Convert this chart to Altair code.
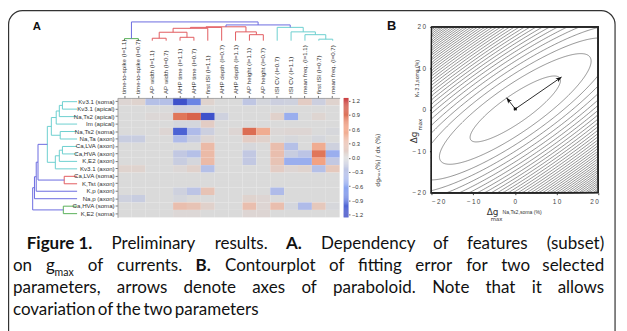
import math
import altair as alt
import numpy as np
import pandas as pd

# ---------------------------------------------------------------- data
ROWS = ["Kv3.1 (soma)", "Kv3.1 (apical)", "Na,Ts2 (apical)", "Im (apical)",
        "Na,Ts2 (soma)", "Na,Ta (axon)", "Ca,LVA (axon)", "Ca,HVA (axon)",
        "K,E2 (axon)", "Kv3.1 (axon)", "Ca,LVA (soma)", "K,Tst (axon)",
        "K,p (axon)", "Na,p (axon)", "Ca,HVA (soma)", "K,E2 (soma)"]

COLS = ["time-to-spike (I=1.1)", "time-to-spike (I=0.7)", "AP width (I=1.1)",
        "AP width (I=0.7)", "AHP time (I=1.1)", "AHP time (I=0.7)",
        "first ISI (I=1.1)", "AHP depth (I=0.7)", "AHP depth (I=1.1)",
        "AP height (I=1.1)", "AP height (I=0.7)", "ISI CV (I=0.7)",
        "ISI CV (I=1.1)", "mean freq. (I=1.1)", "first ISI (I=0.7)",
        "mean freq. (I=0.7)"]

VALUES = [
    [0.05, 0.08, -0.30, -0.30, -1.10, -0.80, 0.08, 0.00, 0.00, -0.22, -0.05, -0.12, -0.10, 0.15, -0.12, 0.08],
    [0.00, 0.00, 0.00, 0.00, -0.10, -0.08, 0.00, 0.00, 0.00, 0.00, 0.00, 0.00, 0.00, 0.00, 0.00, 0.00],
    [0.00, 0.00, 0.03, 0.03, 0.85, 0.95, -1.10, -0.10, 0.00, 0.00, 0.00, 0.10, -0.50, 0.00, 0.06, 0.00],
    [0.00, 0.00, 0.00, 0.00, -0.05, -0.05, 0.15, 0.00, 0.00, 0.00, 0.00, 0.00, 0.00, 0.00, 0.00, 0.00],
    [0.00, 0.00, 0.00, 0.05, -1.00, -0.35, -0.12, 0.00, 0.05, 0.90, 0.50, 0.03, 0.05, 0.05, 0.00, -0.03],
    [-0.15, -0.15, 0.00, 0.00, -0.35, -0.15, 0.05, 0.00, 0.00, 0.15, 0.10, 0.00, -0.03, 0.00, -0.05, 0.00],
    [0.00, 0.00, 0.00, 0.00, 0.00, 0.00, 0.35, 0.00, 0.00, -0.03, 0.00, 0.30, -0.30, 0.00, 0.50, -0.10],
    [0.00, 0.00, 0.00, 0.00, -0.20, -0.30, 0.35, 0.00, 0.00, -0.20, 0.00, 0.30, -0.15, -0.25, 0.85, -0.50],
    [0.00, 0.00, 0.00, 0.00, -0.15, -0.05, 0.35, 0.00, 0.00, -0.20, 0.00, 0.25, -0.50, -0.50, 0.60, -0.20],
    [0.08, 0.08, 0.00, 0.00, 0.03, 0.10, -0.30, 0.00, 0.00, 0.00, 0.00, 0.15, 0.05, 0.08, -0.30, 0.20],
    [0.00, 0.00, 0.00, 0.00, 0.00, 0.00, 0.00, 0.00, 0.00, 0.00, 0.00, 0.00, 0.00, 0.00, 0.00, 0.00],
    [0.00, 0.00, 0.00, 0.00, 0.00, 0.00, 0.00, 0.00, 0.00, 0.00, 0.00, 0.00, 0.00, 0.00, 0.00, 0.00],
    [0.00, 0.00, 0.00, 0.00, -0.10, -0.25, 0.25, 0.00, 0.00, 0.00, 0.00, -0.35, 0.00, 0.00, 0.00, 0.00],
    [-0.10, -0.15, 0.00, 0.00, -0.05, 0.00, 0.00, 0.00, 0.00, 0.08, 0.05, 0.00, 0.00, 0.00, 0.00, 0.00],
    [0.00, 0.00, 0.00, 0.00, 0.30, 0.25, 0.10, 0.00, 0.00, 0.30, 0.05, 0.30, -0.05, -0.35, 0.20, -0.03],
    [0.00, 0.00, 0.00, 0.00, 0.03, 0.03, 0.00, 0.00, 0.00, 0.05, 0.05, 0.00, 0.00, 0.00, 0.00, 0.00],
]

# dendrogram links: (left pos, right pos, left child height, merge height, right child height, cluster)
COL_LINKS = [
    (0.5, 1.5, 0.00, 0.11, 0.00, "green"),
    (2.5, 3.5, 0.00, 0.13, 0.00, "red"),
    (4.5, 5.5, 0.00, 0.18, 0.00, "red"),
    (3.0, 5.0, 0.13, 0.45, 0.18, "red"),
    (9.5, 10.5, 0.00, 0.32, 0.00, "red"),
    (8.5, 10.0, 0.00, 0.47, 0.32, "red"),
    (4.0, 6.5, 0.45, 0.66, 0.00, "red"),
    (5.25, 7.5, 0.66, 0.71, 0.00, "red"),
    (6.375, 9.25, 0.71, 0.74, 0.47, "red"),
    (14.5, 15.5, 0.00, 0.08, 0.00, "cyan"),
    (13.5, 15.0, 0.00, 0.32, 0.08, "cyan"),
    (12.5, 14.25, 0.00, 0.47, 0.32, "cyan"),
    (11.5, 13.375, 0.00, 0.71, 0.47, "cyan"),
    (7.8125, 12.4375, 0.74, 0.84, 0.71, "blue"),
    (1.0, 10.125, 0.11, 1.00, 0.84, "blue"),
]

ROW_LINKS = [
    (0.5, 1.5, 0.00, 0.33, 0.00, "cyan"),
    (1.0, 2.5, 0.33, 0.40, 0.00, "cyan"),
    (1.75, 3.5, 0.40, 0.47, 0.00, "cyan"),
    (4.5, 5.5, 0.00, 0.38, 0.00, "cyan"),
    (2.625, 5.0, 0.47, 0.58, 0.38, "cyan"),
    (6.5, 7.5, 0.00, 0.33, 0.00, "cyan"),
    (7.0, 8.5, 0.33, 0.40, 0.00, "cyan"),
    (7.75, 9.5, 0.40, 0.49, 0.00, "cyan"),
    (3.8125, 8.625, 0.58, 0.67, 0.49, "cyan"),
    (10.5, 11.5, 0.00, 0.29, 0.00, "red"),
    (6.21875, 11.0, 0.67, 0.88, 0.29, "blue"),
    (8.609, 12.5, 0.88, 0.92, 0.00, "blue"),
    (10.555, 13.5, 0.92, 0.96, 0.00, "blue"),
    (14.5, 15.5, 0.00, 0.31, 0.00, "green"),
    (12.027, 15.0, 0.96, 1.00, 0.31, "blue"),
]

CLUSTER_NAMES = ["blue", "cyan", "red", "green"]
CLUSTER_COLORS = ["#6b6be0", "#6ccfcf", "#e25a5e", "#58b058"]

# contour panel: paraboloid fitted to the error surface
CENTER = (0.1, 0.2)
ARROW_TIPS = [(11.2, 7.9), (-2.0, 2.9)]
SEMI_MINOR_UNIT = 4.5      # semi-minor axis of one error step
AXIS_RATIO = 3.9           # major / minor
TILT_DEG = 35.0
LEVEL_OFFSET = 0.55
N_LEVELS = 46
N_PTS = 500
CT_TICKS = [-20, -10, 0, 10, 20]

# caption: lines of words; each word is a list of (text, style) pieces
CAPTION_LINES = [
    [[("Figure 1.", "b")], [("Preliminary", "r")], [("results.", "r")], [("A.", "b")],
     [("Dependency", "r")], [("of", "r")], [("features", "r")], [("(subset)", "r")]],
    [[("on", "r")], [("g", "r"), ("max", "s")], [("of", "r")], [("currents.", "r")], [("B.", "b")],
     [("Contourplot", "r")], [("of", "r")], [("fitting", "r")], [("error", "r")], [("for", "r")],
     [("two", "r")], [("selected", "r")]],
    [[(w, "r")] for w in "parameters, arrows denote axes of paraboloid. Note that it allows".split()],
    [[(w, "r")] for w in "covariation of the two parameters".split()],
]

# ---------------------------------------------------------------- layout (view px = page px - 8)
W, H = 619, 323
HM_X = [111, 336]
HM_Y = [89, 210]
CD_Y = [31, 12]
RD_X = [70, 25]
CB_X0, CB_X1 = 340, 345
CT_X = [429, 598]
CT_Y = [185, 17]
CAP_LEFT = [27, 13, 13, 13]
CAP_RIGHT = 612
CAP_BASE = [250, 272.5, 295, 317]
CAP_JUSTIFY = [True, True, True, False]
CAP_FONT = "Lato"
CAP_SIZE = 17.2

heat_scale = alt.Scale(domain=[-1.2, -0.6, 0, 0.6, 1.2],
                       range=["#2f3fc2", "#8ba6f2", "#dadada", "#f2a283", "#c42a2c"],
                       clamp=True)
clu_scale = alt.Scale(domain=CLUSTER_NAMES, range=CLUSTER_COLORS)

# ---------------------------------------------------------------- heatmap
hm_df = pd.DataFrame([(r, c, VALUES[i][j]) for i, r in enumerate(ROWS) for j, c in enumerate(COLS)],
                     columns=["row", "col", "value"])
heat = alt.Chart(hm_df).mark_rect().encode(
    x=alt.X("col:N", sort=COLS, title=None,
            scale=alt.Scale(range=HM_X, paddingInner=0, paddingOuter=0),
            axis=alt.Axis(orient="top", offset=-HM_Y[0], labelAngle=270, labelFontSize=6.2,
                          labelFont="Liberation Sans", labelColor="#333", labelPadding=2,
                          tickSize=2.5, tickColor="#777", domainColor="#999", domainWidth=0.8)),
    y=alt.Y("row:N", sort=ROWS, title=None,
            scale=alt.Scale(range=HM_Y, paddingInner=0, paddingOuter=0),
            axis=alt.Axis(orient="left", offset=-HM_X[0], labelFontSize=6.2,
                          labelFont="Liberation Sans", labelColor="#333", labelPadding=1,
                          tickSize=2.5, tickColor="#777", domainColor="#999", domainWidth=0.8)),
    color=alt.Color("value:Q", scale=heat_scale, legend=None),
)

# ---------------------------------------------------------------- colorbar
steps = np.round(np.arange(-1.26, 1.26, 0.02), 3)
cb_df = pd.DataFrame({"lo": steps, "hi": steps + 0.02, "mid": steps + 0.01})
cbar = alt.Chart(cb_df).mark_rect().encode(
    x=alt.value(CB_X0), x2=alt.value(CB_X1),
    y=alt.Y("lo:Q", scale=alt.Scale(domain=[-1.26, 1.26], range=[HM_Y[1], HM_Y[0]]),
            axis=alt.Axis(orient="right", offset=CB_X1 - W, values=[-1.2, -0.9, -0.6, -0.3, 0, 0.3, 0.6, 0.9, 1.2],
                          format=".1f", labelFontSize=5.8, labelFont="Liberation Sans", labelColor="#333",
                          tickSize=1.5, tickColor="#666", labelPadding=1.5, domain=False, title=None,
                          grid=False)),
    y2="hi:Q",
    color=alt.Color("mid:Q", scale=heat_scale, legend=None),
)

# ---------------------------------------------------------------- dendrograms
def link_points(links):
    rows = []
    for k, (a, b, ha, h, hb, clu) in enumerate(links):
        for o, (p, hh) in enumerate([(a, ha), (a, h), (b, h), (b, hb)]):
            rows.append({"link": k, "o": o, "pos": p, "h": hh, "clu": clu})
    return pd.DataFrame(rows)

col_dend = alt.Chart(link_points(COL_LINKS)).mark_line(strokeWidth=1).encode(
    x=alt.X("pos:Q", scale=alt.Scale(domain=[0, 16], range=HM_X), axis=None),
    y=alt.Y("h:Q", scale=alt.Scale(domain=[0, 1], range=CD_Y), axis=None),
    detail="link:N", order="o:Q",
    color=alt.Color("clu:N", scale=clu_scale, legend=None),
)

row_dend = alt.Chart(link_points(ROW_LINKS)).mark_line(strokeWidth=1).encode(
    y=alt.Y("pos:Q", scale=alt.Scale(domain=[0, 16], range=HM_Y), axis=None),
    x=alt.X("h:Q", scale=alt.Scale(domain=[0, 1], range=RD_X), axis=None),
    detail="link:N", order="o:Q",
    color=alt.Color("clu:N", scale=clu_scale, legend=None),
)

# ---------------------------------------------------------------- contour panel
th = math.radians(TILT_DEG)
ct_xs = alt.Scale(domain=[-20, 20], range=CT_X, clamp=True)
ct_ys = alt.Scale(domain=[-20, 20], range=CT_Y, clamp=True)
spaced = "join(split(datum.label, ''), '\u2009')"

contours = alt.Chart(alt.sequence(0, N_LEVELS * N_PTS, as_="i")).transform_calculate(
    lev=f"floor(datum.i / {N_PTS})",
    t=f"(datum.i % {N_PTS}) / ({N_PTS} - 1) * 2 * PI",
).transform_calculate(
    r=f"sqrt(datum.lev + {LEVEL_OFFSET})",
).transform_calculate(
    u=f"{SEMI_MINOR_UNIT * AXIS_RATIO} * datum.r * cos(datum.t)",
    v=f"{SEMI_MINOR_UNIT} * datum.r * sin(datum.t)",
).transform_calculate(
    cx=f"{CENTER[0]} + datum.u * {math.cos(th)} - datum.v * {math.sin(th)}",
    cy=f"{CENTER[1]} + datum.u * {math.sin(th)} + datum.v * {math.cos(th)}",
).mark_line(strokeWidth=0.55, color="#3a3a3a").encode(
    x=alt.X("cx:Q", scale=ct_xs,
            axis=alt.Axis(orient="bottom", offset=CT_Y[0] - H, values=CT_TICKS, labelExpr=spaced,
                          labelFontSize=6.5, labelFont="Liberation Sans", labelColor="#444",
                          tickSize=2, tickColor="#444", domain=False, grid=False, title=None,
                          labelPadding=4)),
    y=alt.Y("cy:Q", scale=ct_ys,
            axis=alt.Axis(orient="left", offset=-CT_X[0], values=CT_TICKS, labelExpr=spaced,
                          labelFontSize=6.5, labelFont="Liberation Sans", labelColor="#444",
                          tickSize=2, tickColor="#444", domain=False, grid=False, title=None,
                          labelPadding=4)),
    detail="lev:N", order="i:Q",
)

frame_df = pd.DataFrame({"x0": [-20], "x1": [20], "y0": [-20], "y1": [20]})
frame = alt.Chart(frame_df).mark_rect(fill=None, stroke="#222", strokeWidth=1).encode(
    x=alt.X("x0:Q", scale=ct_xs, axis=None), x2="x1:Q",
    y=alt.Y("y0:Q", scale=ct_ys, axis=None), y2="y1:Q",
)

sx = (CT_X[1] - CT_X[0]) / 40.0
sy = (CT_Y[0] - CT_Y[1]) / 40.0
arr_df = pd.DataFrame({
    "x0": [CENTER[0]] * len(ARROW_TIPS), "y0": [CENTER[1]] * len(ARROW_TIPS),
    "x1": [t[0] for t in ARROW_TIPS], "y1": [t[1] for t in ARROW_TIPS],
})
arr_df["ang"] = [
    (math.degrees(math.atan2((t[0] - CENTER[0]) * sx, (t[1] - CENTER[1]) * sy)) + 360) % 360
    for t in ARROW_TIPS
]
shafts = alt.Chart(arr_df).mark_rule(color="#111", strokeWidth=0.9).encode(
    x=alt.X("x0:Q", scale=ct_xs, axis=None), x2="x1:Q",
    y=alt.Y("y0:Q", scale=ct_ys, axis=None), y2="y1:Q",
)
heads = alt.Chart(arr_df).mark_point(
    shape="M0,0L0.75,1.9L0,1.35L-0.75,1.9Z", filled=True, color="#111", size=40, opacity=1,
).encode(
    x=alt.X("x1:Q", scale=ct_xs, axis=None),
    y=alt.Y("y1:Q", scale=ct_ys, axis=None),
    angle=alt.Angle("ang:Q", scale=None),
)
cross = alt.Chart(arr_df.head(1)).mark_point(shape="cross", filled=True, color="#111", size=14, angle=45,
                                             opacity=1).encode(
    x=alt.X("x0:Q", scale=ct_xs, axis=None),
    y=alt.Y("y0:Q", scale=ct_ys, axis=None),
)

# ---------------------------------------------------------------- texts
def txt(text, px, py, size, bold=False, angle=0, align="left", font="Liberation Sans",
        color="#222", baseline="alphabetic"):
    kw = dict(fontSize=size, font=font, color=color, align=align, baseline=baseline,
              fontWeight="bold" if bold else "normal")
    if angle:
        kw["angle"] = angle
    return alt.Chart(pd.DataFrame({"t": [text]})).mark_text(**kw).encode(
        text="t:N", x=alt.value(px - 8), y=alt.value(py - 8))

# approximate advance widths (em) of the caption font, used to justify lines
_EM = {" ": .193, "a": .50, "b": .56, "c": .46, "d": .56, "e": .52, "f": .32, "g": .50, "h": .56,
       "i": .24, "j": .24, "k": .50, "l": .24, "m": .84, "n": .56, "o": .56, "p": .56, "q": .56,
       "r": .36, "s": .42, "t": .34, "u": .56, "v": .49, "w": .75, "x": .48, "y": .49, "z": .44,
       "A": .69, "B": .65, "C": .66, "D": .72, "F": .55, "N": .74, "P": .60, ".": .22, ",": .22,
       "(": .30, ")": .30, "1": .58}
SUB_SCALE = 0.62

def piece_width(text, style):
    size = CAP_SIZE * (SUB_SCALE if style == "s" else 1.0)
    return sum(_EM.get(ch, 0.55) for ch in text) * size * (1.04 if style == "b" else 1.0)

cap_recs = []
for li, words in enumerate(CAPTION_LINES):
    widths = [sum(piece_width(t, s) for t, s in w) for w in words]
    left = CAP_LEFT[li]
    if CAP_JUSTIFY[li]:
        gap = (CAP_RIGHT - left - sum(widths)) / (len(words) - 1)
    else:
        gap = _EM[" "] * CAP_SIZE
    x = left
    for wi, (w, wd) in enumerate(zip(words, widths)):
        last = CAP_JUSTIFY[li] and wi == len(words) - 1
        xx = x
        for t, s in w:
            cap_recs.append({"x": (CAP_RIGHT if last else xx) - 8,
                             "y": CAP_BASE[li] - 8 + (4.5 if s == "s" else 0),
                             "text": t, "style": s, "al": "right" if last else "left"})
            xx += piece_width(t, s)
        x += wd + gap
cap_df = pd.DataFrame(cap_recs)

def cap_layer(style, al, size, weight):
    return alt.Chart(cap_df).transform_filter(
        f"datum.style == '{style}' && datum.al == '{al}'"
    ).mark_text(font=CAP_FONT, fontSize=size, fontWeight=weight, color="#111", align=al,
                baseline="alphabetic").encode(
        x=alt.X("x:Q", scale=None, axis=None),
        y=alt.Y("y:Q", scale=None, axis=None),
        text="text:N",
    )

caption = [
    cap_layer("r", "left", CAP_SIZE, "normal"),
    cap_layer("r", "right", CAP_SIZE, "normal"),
    cap_layer("b", "left", CAP_SIZE, "bold"),
    cap_layer("s", "left", CAP_SIZE * SUB_SCALE, "normal"),
]

labels = [
    txt("A", 33, 28, 11.5, bold=True, color="#111"),
    txt("B", 392, 28, 13, bold=True, color="#111"),
    txt("dg\u2098\u2090\u2093(%) / dx (%)", 385, 160, 6.2, angle=270, align="center", color="#333",
        font="DejaVu Sans"),
    txt("\u0394g", 493, 216, 9, color="#333", font="DejaVu Sans"),
    txt("max", 497, 222, 5.5, color="#333", font="DejaVu Sans"),
    txt("Na,Ts2,soma (%)", 509, 215, 5.2, color="#333"),
    txt("\u0394g", 422, 143, 9, angle=270, color="#333", font="DejaVu Sans"),
    txt("max", 427, 130, 5.5, angle=270, color="#333", font="DejaVu Sans"),
    txt("K\u1d65 3.1,soma (%)", 424, 96, 5.2, angle=270, color="#333"),
]

border = alt.Chart(pd.DataFrame({"k": [0]})).mark_rect(
    fill=None, stroke="#333", strokeWidth=1.2, cornerRadius=14).encode(
    x=alt.value(0.6), x2=alt.value(615), y=alt.value(0.6), y2=alt.value(420))

chart = alt.layer(
    border, heat, cbar, col_dend, row_dend, contours, frame, shafts, heads, cross,
    *labels, *caption,
).resolve_scale(x="independent", y="independent", color="independent").properties(
    width=W, height=H, autosize=alt.AutoSizeParams(type="none"), padding=0,
).configure_view(stroke=None)

chart.save("out.html", embed_options={"renderer": "svg", "actions": False})
